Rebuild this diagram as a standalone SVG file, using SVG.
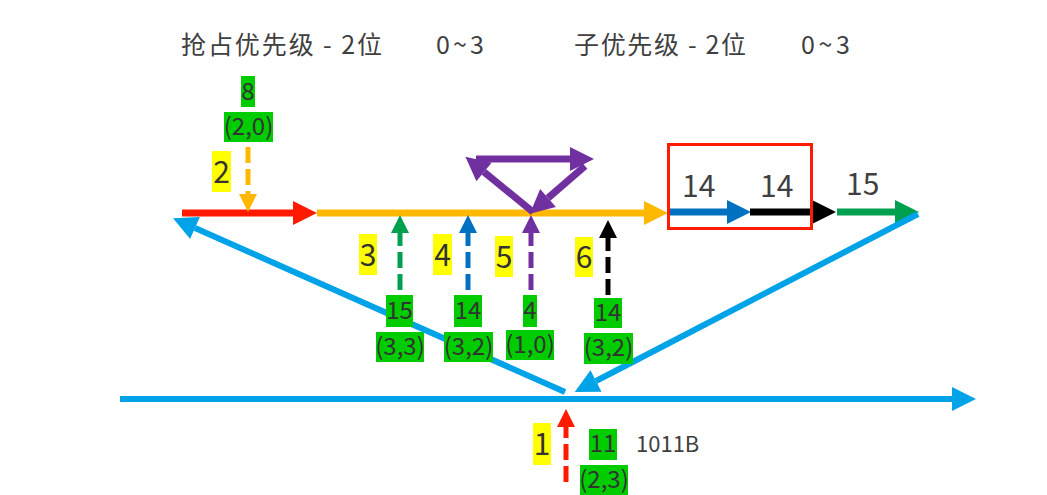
<svg xmlns="http://www.w3.org/2000/svg" width="1047" height="495" viewBox="0 0 1047 495">
<style>
text{font-family:"Noto Sans CJK SC","Noto Sans",sans-serif;fill:#333}
.title{font-size:25px;fill:#404040}
.big{font-size:30px;fill:#404040}
.g{fill:#00CC00}
.y{fill:#FFFF00}
.gt{font-size:24px;text-anchor:middle}
.yt{font-size:30px;text-anchor:middle}
.thick{fill:none;stroke-width:7}
.dash{fill:none;stroke-width:5;stroke-dasharray:16 6}
.lb{fill:none;stroke:#00A2E8;stroke-width:6}
</style>
<defs>
<marker id="hRed" markerUnits="userSpaceOnUse" markerWidth="24" markerHeight="24" refX="0" refY="12" orient="auto" overflow="visible"><path d="M0,0 L24,12 L0,24 z" fill="#FF1A00"/></marker>
<marker id="hOr" markerUnits="userSpaceOnUse" markerWidth="24" markerHeight="24" refX="0" refY="12" orient="auto" overflow="visible"><path d="M0,0 L24,12 L0,24 z" fill="#FFB800"/></marker>
<marker id="hBl" markerUnits="userSpaceOnUse" markerWidth="24" markerHeight="24" refX="0" refY="12" orient="auto" overflow="visible"><path d="M0,0 L24,12 L0,24 z" fill="#0070C0"/></marker>
<marker id="hBk" markerUnits="userSpaceOnUse" markerWidth="24" markerHeight="24" refX="0" refY="12" orient="auto" overflow="visible"><path d="M0,0 L24,12 L0,24 z" fill="#000"/></marker>
<marker id="hGr" markerUnits="userSpaceOnUse" markerWidth="24" markerHeight="24" refX="0" refY="12" orient="auto" overflow="visible"><path d="M0,0 L24,12 L0,24 z" fill="#00A050"/></marker>
<marker id="hLb" markerUnits="userSpaceOnUse" markerWidth="24" markerHeight="24" refX="0" refY="12" orient="auto" overflow="visible"><path d="M0,0 L24,12 L0,24 z" fill="#00A2E8"/></marker>
<marker id="hPu" markerUnits="userSpaceOnUse" markerWidth="24" markerHeight="24" refX="0" refY="12" orient="auto" overflow="visible"><path d="M0,0 L24,12 L0,24 z" fill="#7030A0"/></marker>
<marker id="sOr" markerUnits="userSpaceOnUse" markerWidth="18" markerHeight="18" refX="0" refY="9" orient="auto" overflow="visible"><path d="M0,0 L18,9 L0,18 z" fill="#FFB800"/></marker>
<marker id="sGr" markerUnits="userSpaceOnUse" markerWidth="18" markerHeight="18" refX="0" refY="9" orient="auto" overflow="visible"><path d="M0,0 L18,9 L0,18 z" fill="#00A050"/></marker>
<marker id="sBl" markerUnits="userSpaceOnUse" markerWidth="18" markerHeight="18" refX="0" refY="9" orient="auto" overflow="visible"><path d="M0,0 L18,9 L0,18 z" fill="#0070C0"/></marker>
<marker id="sPu" markerUnits="userSpaceOnUse" markerWidth="18" markerHeight="18" refX="0" refY="9" orient="auto" overflow="visible"><path d="M0,0 L18,9 L0,18 z" fill="#7030A0"/></marker>
<marker id="sBk" markerUnits="userSpaceOnUse" markerWidth="18" markerHeight="18" refX="0" refY="9" orient="auto" overflow="visible"><path d="M0,0 L18,9 L0,18 z" fill="#000"/></marker>
<marker id="sRed" markerUnits="userSpaceOnUse" markerWidth="18" markerHeight="18" refX="0" refY="9" orient="auto" overflow="visible"><path d="M0,0 L18,9 L0,18 z" fill="#FF1A00"/></marker>
</defs>
<rect width="1047" height="495" fill="#fff"/>

<g id="titles">
<text class="title" x="181" y="54" textLength="201">抢占优先级 - 2位</text>
<text class="title" x="436" y="54" textLength="48">0~3</text>
<text class="title" x="574" y="54" textLength="172">子优先级 - 2位</text>
<text class="title" x="801" y="54" textLength="49">0~3</text>
</g>

<g id="connectors">
<!-- main horizontal chain -->
<line class="thick" x1="182" y1="213" x2="293" y2="213" stroke="#FF1A00" marker-end="url(#hRed)"/>
<line class="thick" x1="317" y1="213" x2="644" y2="213" stroke="#FFB800" marker-end="url(#hOr)"/>
<line class="thick" x1="670" y1="212" x2="727" y2="212" stroke="#0070C0" marker-end="url(#hBl)"/>
<line class="thick" x1="750" y1="212" x2="812" y2="212" stroke="#000" marker-end="url(#hBk)"/>
<line class="thick" x1="837" y1="212" x2="895" y2="212" stroke="#00A050" marker-end="url(#hGr)"/>
<!-- purple triangle -->
<line class="thick" x1="533" y1="212" x2="484" y2="172" stroke="#7030A0" marker-end="url(#hPu)"/>
<line class="thick" x1="476" y1="159" x2="570" y2="159" stroke="#7030A0" marker-end="url(#hPu)"/>
<line class="thick" x1="585" y1="166" x2="548" y2="198" stroke="#7030A0" marker-end="url(#hPu)"/>
<!-- light blue -->
<line class="lb" x1="120" y1="399" x2="952" y2="399" marker-end="url(#hLb)"/>
<line class="lb" x1="565" y1="392" x2="195" y2="228" marker-end="url(#hLb)"/>
<line class="lb" x1="918" y1="214" x2="596" y2="381" marker-end="url(#hLb)"/>
<!-- dashed -->
<line class="dash" x1="248" y1="147" x2="248" y2="194" stroke="#FFB800" marker-end="url(#sOr)"/>
<line class="dash" x1="400" y1="290" x2="400" y2="233" stroke="#00A050" marker-end="url(#sGr)"/>
<line class="dash" x1="468" y1="290" x2="468" y2="233" stroke="#0070C0" marker-end="url(#sBl)"/>
<line class="dash" x1="531" y1="290" x2="531" y2="233" stroke="#7030A0" marker-end="url(#sPu)"/>
<line class="dash" x1="608" y1="295" x2="608" y2="238" stroke="#000" marker-end="url(#sBk)"/>
<line class="dash" x1="566" y1="482" x2="566" y2="427" stroke="#FF1A00" marker-end="url(#sRed)"/>
</g>

<g id="box-red">
<rect x="668.5" y="144.5" width="143" height="84" fill="none" stroke="#FF1A00" stroke-width="3"/>
</g>

<g id="chain-labels">
<text class="big" x="682" y="197">14</text>
<text class="big" x="760" y="197">14</text>
<text class="big" x="846" y="195">15</text>
</g>

<g id="n2">
<rect class="g" x="241" y="76" width="14" height="31"/>
<text class="gt" x="248" y="100">8</text>
<rect class="g" x="224" y="112" width="49" height="30"/>
<text class="gt" x="248.5" y="135">(2,0)</text>
<rect class="y" x="212" y="151" width="19" height="41"/>
<text class="yt" x="221.5" y="183">2</text>
</g>

<g id="n3">
<rect class="y" x="359" y="234" width="18" height="41"/>
<text class="yt" x="368" y="266">3</text>
<rect class="g" x="386" y="295" width="27" height="32"/>
<text class="gt" x="399.5" y="319">15</text>
<rect class="g" x="376" y="332" width="48" height="30"/>
<text class="gt" x="400" y="355">(3,3)</text>
</g>

<g id="n4">
<rect class="y" x="433" y="234" width="19" height="41"/>
<text class="yt" x="442.5" y="266">4</text>
<rect class="g" x="454" y="295" width="28" height="32"/>
<text class="gt" x="468" y="319">14</text>
<rect class="g" x="444" y="332" width="49" height="30"/>
<text class="gt" x="468.5" y="355">(3,2)</text>
</g>

<g id="n5">
<rect class="y" x="495" y="236" width="18" height="41"/>
<text class="yt" x="504" y="268">5</text>
<rect class="g" x="523" y="295" width="14" height="32"/>
<text class="gt" x="530" y="319">4</text>
<rect class="g" x="506" y="330" width="48" height="30"/>
<text class="gt" x="530" y="353">(1,0)</text>
</g>

<g id="n6">
<rect class="y" x="575" y="237" width="18" height="40"/>
<text class="yt" x="584" y="268">6</text>
<rect class="g" x="594" y="298" width="28" height="30"/>
<text class="gt" x="608" y="321">14</text>
<rect class="g" x="584" y="333" width="49" height="31"/>
<text class="gt" x="608.5" y="356">(3,2)</text>
</g>

<g id="n1">
<rect class="y" x="533" y="423" width="18" height="42"/>
<text class="yt" x="542" y="455">1</text>
<rect class="g" x="589" y="429" width="28" height="31"/>
<text class="gt" x="603" y="452">11</text>
<rect class="g" x="580" y="465" width="48" height="30"/>
<text class="gt" x="604" y="488">(2,3)</text>
<text x="636" y="452" style="font-size:22px;fill:#404040">1011B</text>
</g>
</svg>
